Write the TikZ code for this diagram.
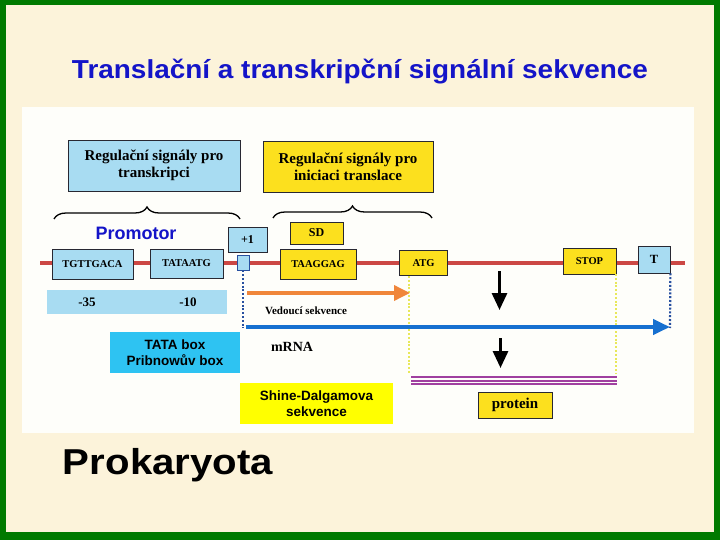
\documentclass[tikz,border=0pt]{standalone}
\usepackage{fontspec}
\setmainfont{Liberation Serif}
\newfontfamily\arialf{Liberation Sans}
\usetikzlibrary{arrows.meta,decorations.pathreplacing}
\definecolor{cream}{RGB}{252,243,218}
\definecolor{framegreen}{RGB}{0,122,0}
\definecolor{panel}{RGB}{254,254,250}
\definecolor{lblue}{RGB}{168,220,242}
\definecolor{ybox}{RGB}{252,224,30}
\definecolor{boxline}{RGB}{40,40,50}
\definecolor{dnared}{RGB}{204,72,68}
\definecolor{orangea}{RGB}{240,134,58}
\definecolor{mblue}{RGB}{22,112,208}
\definecolor{cyanbox}{RGB}{46,195,242}
\definecolor{shineY}{RGB}{255,255,0}
\definecolor{titleblue}{RGB}{20,20,200}
\definecolor{purp}{RGB}{160,64,160}
\definecolor{dotblue}{RGB}{40,80,160}
\definecolor{dotyel}{RGB}{232,232,90}
\begin{document}
\begin{tikzpicture}[x=1pt,y=-1pt,
  box/.style={draw=boxline, line width=0.8pt, inner sep=0pt, align=center, font=\bfseries},
  lb/.style={box, fill=lblue},
  yb/.style={box, fill=ybox},
  lbl/.style={inner sep=0pt, align=center},
  dna/.style={draw=dnared, line width=4pt},
  bdot/.style={draw=dotblue, line width=2.2pt, dash pattern=on 2pt off 1.8pt},
  ydot/.style={draw=dotyel, line width=2.2pt, dash pattern=on 2pt off 1.8pt},
  brc/.style={draw=black, line width=1.3pt, decorate, decoration={brace, amplitude=12pt}},
  blk/.style={draw=black, line width=3pt, -{Triangle[length=17pt,width=15pt]}},
]
\useasboundingbox (0,0) rectangle (720,540);
\fill[framegreen] (0,0) rectangle (720,540);
\fill[cream] (6,5) rectangle (714,532);
\fill[panel] (22,107) rectangle (694,433);

% title
\node[lbl, anchor=base, text=titleblue] (title) at (360,79)
  {\resizebox{576pt}{\height}{\arialf\bfseries\fontsize{26}{30}\selectfont Translační a transkripční signální sekvence}};

% headers
\node[lb, minimum width=172pt, minimum height=51pt, font=\bfseries\fontsize{15}{17}\selectfont] (hdrT) at (154,165.5)
  {Regulační signály pro\\transkripci};
\node[yb, minimum width=170pt, minimum height=51pt, font=\bfseries\fontsize{15}{17}\selectfont] (hdrS) at (348,166.5)
  {Regulační signály pro\\iniciaci translace};

% braces
\coordinate (brTL) at (54,219); \coordinate (brTR) at (240,219);
\coordinate (brSL) at (273,218); \coordinate (brSR) at (432,218);
\draw[brc] (brTL) -- (brTR);
\draw[brc] (brSL) -- (brSR);

\node[lbl, anchor=base, text=titleblue, font=\arialf\bfseries\fontsize{18}{20}\selectfont] (prom) at (136,240) {Promotor};

% DNA line
\coordinate (dnaL) at (40,263); \coordinate (dnaR) at (685,263);
\draw[dna] (dnaL) -- (dnaR);

\node[lb, minimum width=39pt, minimum height=25pt, font=\bfseries\fontsize{12}{14}\selectfont] (plus1) at (247.5,239.5) {+1};
\node[yb, minimum width=53pt, minimum height=22pt, font=\bfseries\fontsize{12}{14}\selectfont] (sd) at (316.5,233) {SD};
\node[lb, minimum width=81pt, minimum height=30pt, font=\bfseries\fontsize{10.5}{12}\selectfont] (tgt) at (92.5,264) {TGTTGACA};
\node[lb, minimum width=73pt, minimum height=29pt, font=\bfseries\fontsize{10.5}{12}\selectfont] (tata) at (186.5,263.5) {TATAATG};
\node[lb, draw=dotblue, minimum width=12pt, minimum height=15pt] (sq) at (243,262.5) {};
\node[yb, minimum width=76pt, minimum height=30pt, font=\bfseries\fontsize{10.5}{12}\selectfont] (taag) at (318,264) {TAAGGAG};
\node[yb, minimum width=48pt, minimum height=25pt, font=\bfseries\fontsize{10.5}{12}\selectfont] (atg) at (423.5,263) {ATG};
\node[yb, minimum width=53pt, minimum height=26pt, font=\bfseries\fontsize{10.5}{12}\selectfont] (stop) at (589.5,261) {STOP};
\node[lb, minimum width=32pt, minimum height=27pt, font=\bfseries\fontsize{12.5}{14}\selectfont] (tbox) at (654,259.5) {T};

% -35 / -10 band
\node[lbl, fill=lblue, minimum width=180pt, minimum height=24pt] (band) at (137,302) {};
\node[lbl, font=\bfseries\fontsize{13}{15}\selectfont] (m35) at (87,302) {-35};
\node[lbl, font=\bfseries\fontsize{13}{15}\selectfont] (m10) at (188,302) {-10};

% coordinates for connectors
\coordinate (sqEnd) at (243,328);
\coordinate (oS) at (247,293); \coordinate (oE) at (410,293);
\coordinate (mS) at (246,327); \coordinate (mE) at (670,327);
\coordinate (atgD) at (409,276); \coordinate (atgE) at (409,373);
\coordinate (stopD) at (616,274); \coordinate (stopE) at (616,373);
\coordinate (tEnd) at (670,328);

% dotted verticals
\draw[bdot] (sq.south) -- (sqEnd);
\draw[bdot] (tbox.south east) -- (tEnd);
\draw[ydot] (atgD) -- (atgE);
\draw[ydot] (stopD) -- (stopE);

% arrows
\draw[draw=orangea, line width=3.5pt, -{Triangle[length=16pt,width=15pt]}] (oS) -- (oE);
\draw[draw=mblue, line width=4pt, -{Triangle[length=17pt,width=15pt]}] (mS) -- (mE);

\coordinate (a1S) at (499.5,271); \coordinate (a1E) at (499.5,310);
\coordinate (a2S) at (500.5,338); \coordinate (a2E) at (500.5,368);
\draw[blk] (a1S) -- (a1E);
\draw[blk] (a2S) -- (a2E);

\node[lbl, font=\bfseries\fontsize{11}{13}\selectfont] (ved) at (306,311) {Vedoucí sekvence};
\node[lbl, font=\bfseries\fontsize{14}{16}\selectfont] (mrna) at (292,347) {mRNA};

% protein lines
\coordinate (p1L) at (411,377.3); \coordinate (p1R) at (617,377.3);
\coordinate (p2L) at (411,380.7); \coordinate (p2R) at (617,380.7);
\coordinate (p3L) at (411,384.0); \coordinate (p3R) at (617,384.0);
\draw[purp, line width=1.8pt] (p1L) -- (p1R);
\draw[purp, line width=1.8pt] (p2L) -- (p2R);
\draw[purp, line width=1.8pt] (p3L) -- (p3R);

\node[yb, minimum width=74pt, minimum height=26pt, font=\bfseries\fontsize{15}{17}\selectfont] (prot) at (515,405) {protein};

% labels
\node[lbl, fill=cyanbox, minimum width=130pt, minimum height=41pt, font=\arialf\bfseries\fontsize{13.5}{15.5}\selectfont] (tatalbl) at (175,352.5)
  {TATA box\\Pribnowův box};
\node[lbl, fill=shineY, minimum width=153pt, minimum height=41pt, font=\arialf\bfseries\fontsize{13.5}{16}\selectfont] (shine) at (316.5,403.5)
  {Shine-Dalgamova\\sekvence};

\node[lbl, anchor=base] (prok) at (168,474)
  {\resizebox{210pt}{\height}{\arialf\bfseries\fontsize{36}{40}\selectfont Prokaryota}};
\end{tikzpicture}
\end{document}
